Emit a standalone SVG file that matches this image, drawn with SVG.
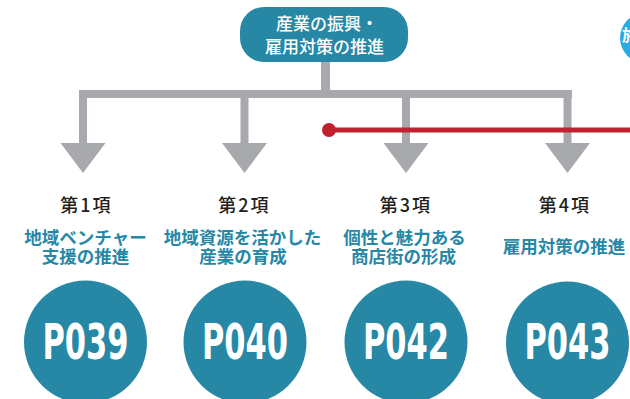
<svg xmlns="http://www.w3.org/2000/svg" width="630" height="399" viewBox="0 0 630 399">
<defs>
<style>
.teal{fill:#2788a6}
.gray{fill:#a7a9ac}
.ttl{font-family:"Noto Sans CJK JP","Noto Sans",sans-serif;font-size:17px;font-weight:500;fill:#ffffff;text-anchor:middle}
.hd{font-family:"Noto Sans CJK JP","Noto Sans",sans-serif;font-size:18px;font-weight:500;fill:#231f20;text-anchor:middle;letter-spacing:2px}
.sub{font-family:"Noto Sans CJK JP","Noto Sans",sans-serif;font-size:17.5px;font-weight:700;fill:#2788a6;text-anchor:middle}
.pg{font-family:"DejaVu Sans Condensed","DejaVu Sans",sans-serif;font-size:50px;font-weight:700;fill:#ffffff;text-anchor:middle}
</style>
<polygon id="ah" points="-22.5,0 22.5,0 0,30" fill="#a7a9ac"/>
</defs>
<rect width="630" height="399" fill="#ffffff"/>
<g id="connectors">
<rect class="gray" x="321" y="60" width="9" height="32"/>
<rect class="gray" x="79" y="90" width="493" height="8"/>
<rect class="gray" x="79" y="90" width="8" height="55"/>
<rect class="gray" x="240.5" y="90" width="8" height="55"/>
<rect class="gray" x="402" y="90" width="8" height="55"/>
<rect class="gray" x="563.5" y="90" width="8" height="55"/>
<use href="#ah" x="83" y="143"/>
<use href="#ah" x="244.5" y="143"/>
<use href="#ah" x="406" y="143"/>
<use href="#ah" x="567.5" y="143"/>
<line x1="329" y1="130" x2="630" y2="130" stroke="#c1202f" stroke-width="5"/>
<circle cx="329" cy="130" r="7" fill="#c1202f"/>
</g>
<g id="top">
<rect class="teal" x="240" y="7" width="168" height="55" rx="24"/>
<text class="ttl" x="327" y="30">産業の振興・</text>
<text class="ttl" x="324.5" y="53">雇用対策の推進</text>
</g>
<g id="side">
<rect x="620" y="13" width="80" height="50" rx="25" fill="#29abe2"/>
<text x="622" y="41" font-family="'Noto Sans CJK JP',sans-serif" font-size="16" font-weight="700" fill="#ffffff">施</text>
</g>
<g id="n1">
<text class="hd" x="86.5" y="212">第1項</text>
<text class="sub" x="85.5" y="244">地域ベンチャー</text>
<text class="sub" x="85.5" y="262.5">支援の推進</text>
<circle class="teal" cx="85.5" cy="342" r="61.5"/>
<text class="pg" x="85.5" y="359" textLength="86" lengthAdjust="spacingAndGlyphs">P039</text>
</g>
<g id="n2">
<text class="hd" x="244.5" y="212">第2項</text>
<text class="sub" x="242.5" y="244">地域資源を活かした</text>
<text class="sub" x="243" y="262.5">産業の育成</text>
<circle class="teal" cx="245" cy="342" r="61.5"/>
<text class="pg" x="245" y="359" textLength="86" lengthAdjust="spacingAndGlyphs">P040</text>
</g>
<g id="n3">
<text class="hd" x="406" y="212">第3項</text>
<text class="sub" x="404.5" y="244">個性と魅力ある</text>
<text class="sub" x="403.5" y="262.5">商店街の形成</text>
<circle class="teal" cx="406" cy="342" r="61.5"/>
<text class="pg" x="406" y="359" textLength="86" lengthAdjust="spacingAndGlyphs">P042</text>
</g>
<g id="n4">
<text class="hd" x="565" y="212">第4項</text>
<text class="sub" x="564" y="253">雇用対策の推進</text>
<circle class="teal" cx="567.5" cy="343" r="61.5"/>
<text class="pg" x="567.5" y="359" textLength="86" lengthAdjust="spacingAndGlyphs">P043</text>
</g>
</svg>
